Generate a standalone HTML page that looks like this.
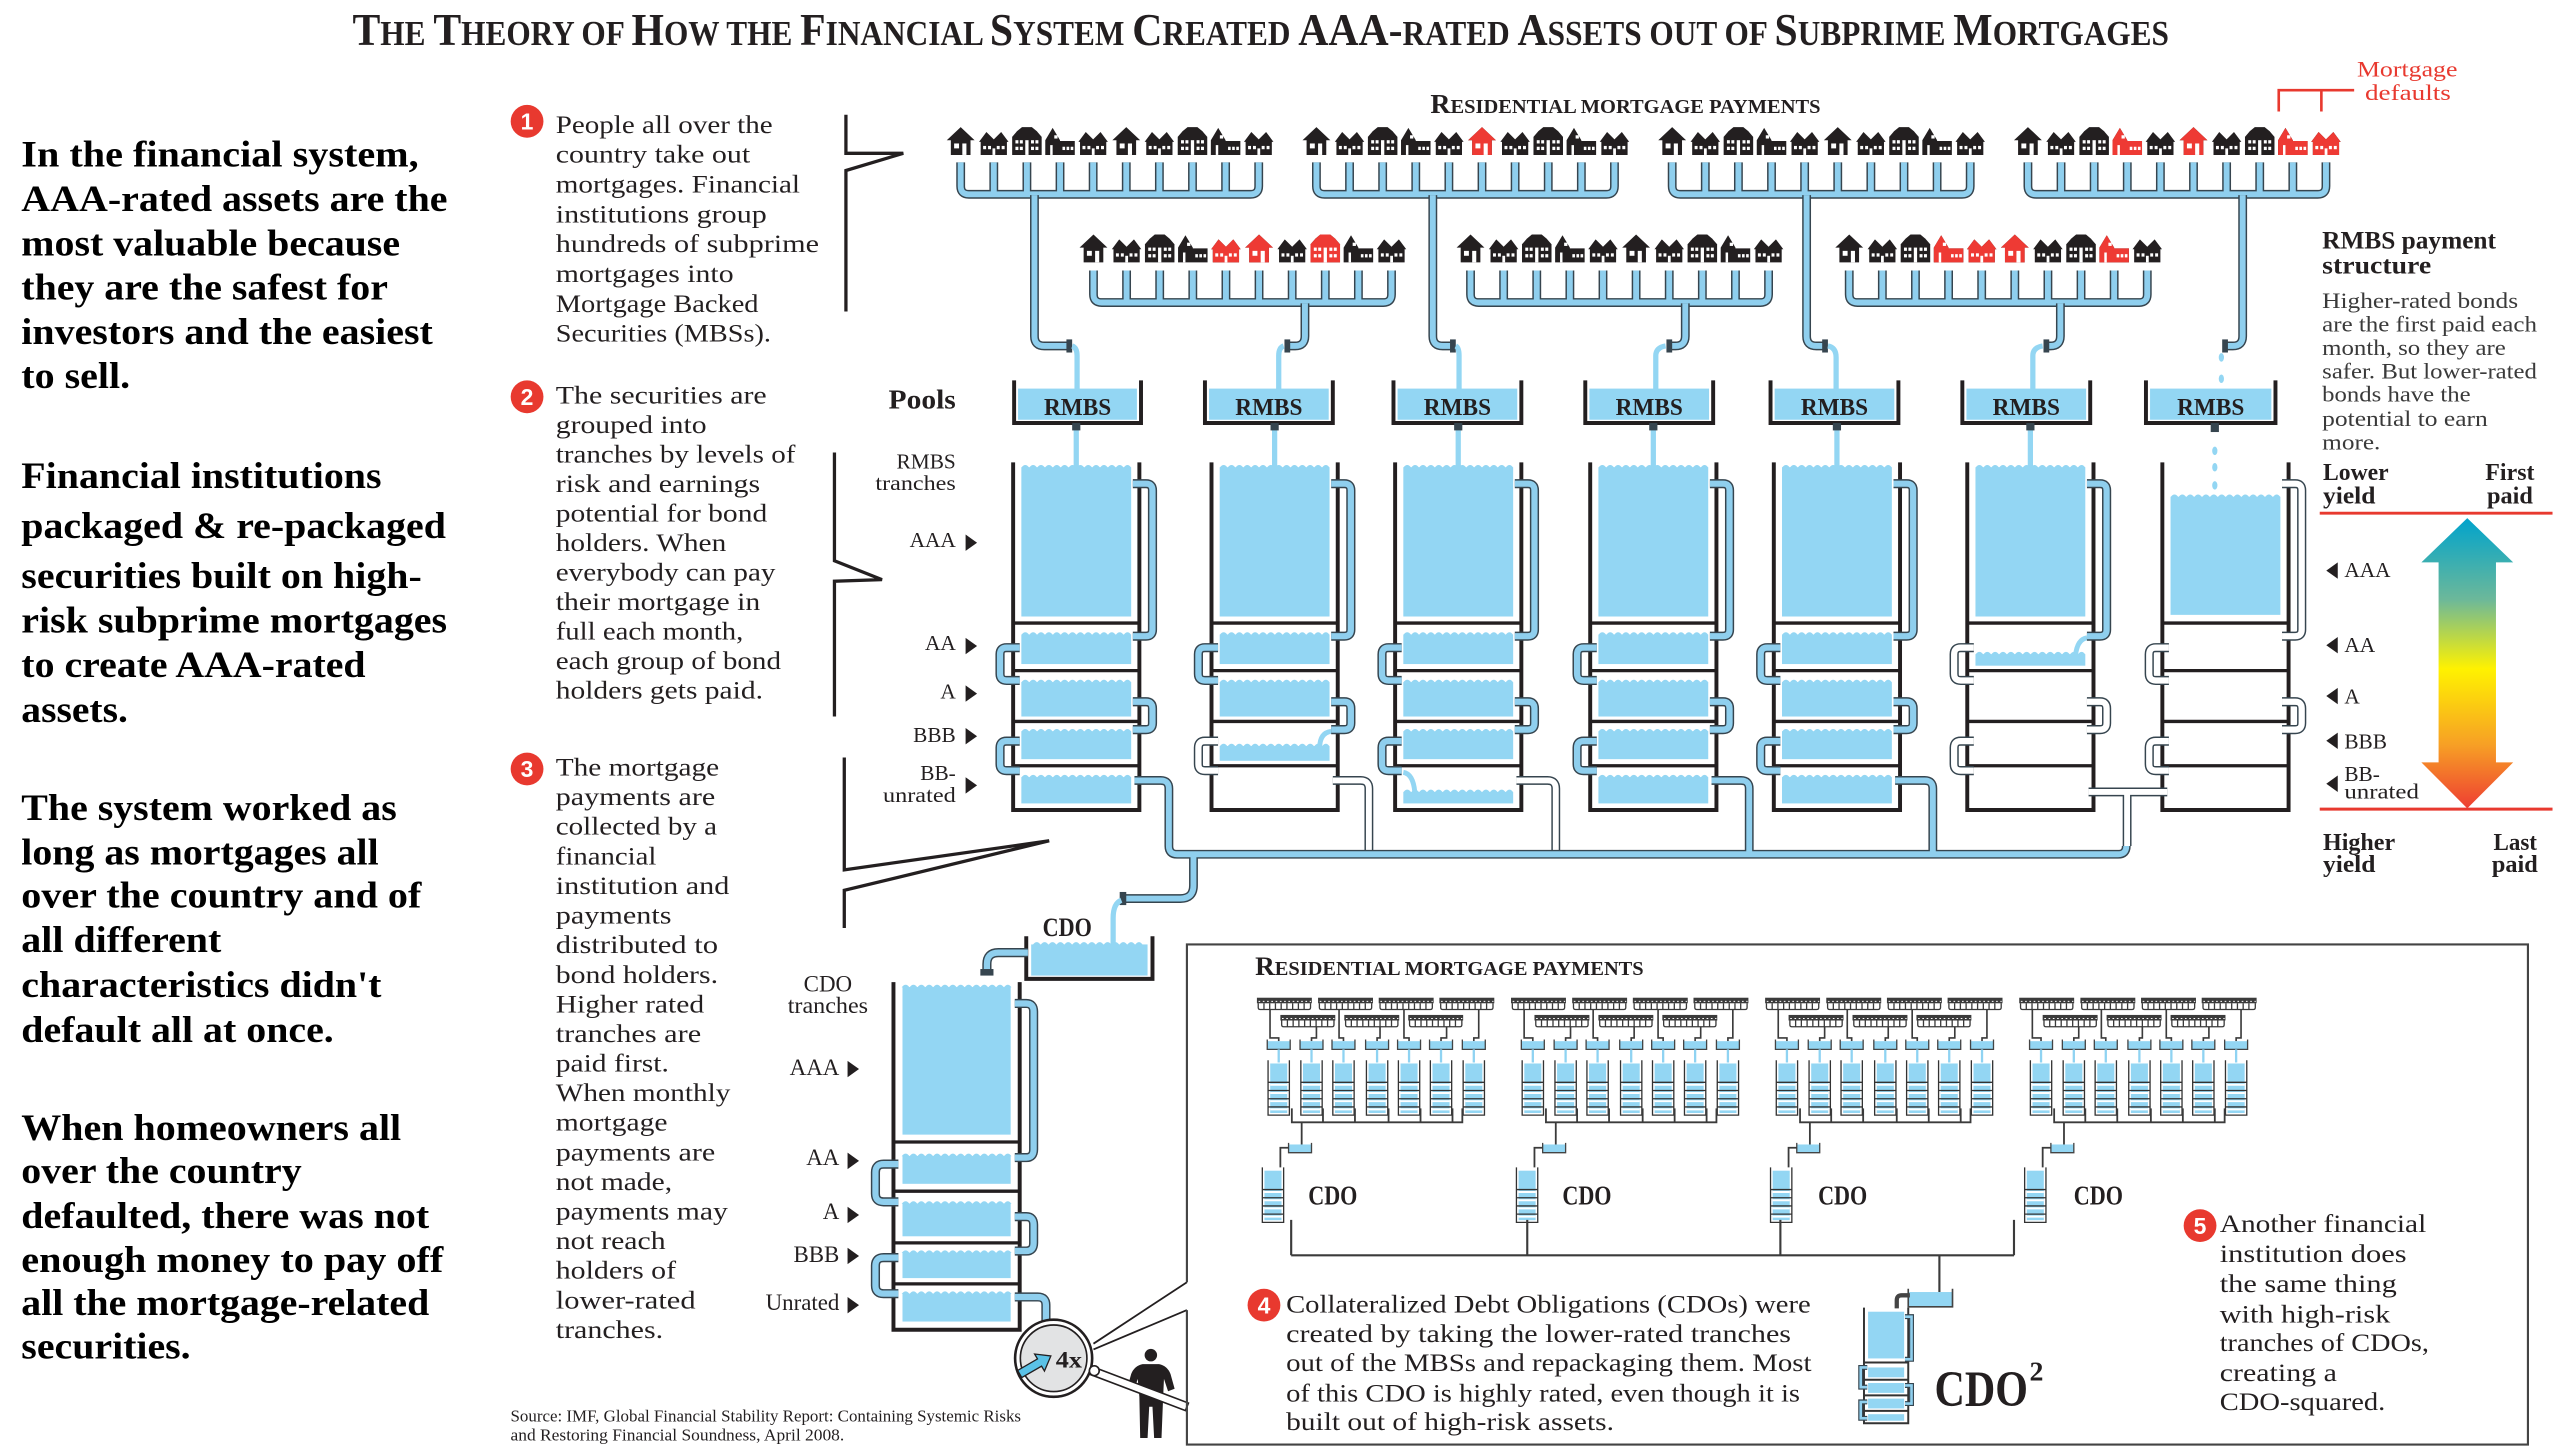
<!DOCTYPE html>
<html><head><meta charset="utf-8"><style>
html,body{margin:0;padding:0;background:#fff;}
svg{display:block;}
text{font-family:"Liberation Serif",serif;fill:#231f20;}
.b{font-weight:bold;}
.lt{font-size:22.5px;font-weight:bold;fill:#000;}
.mt{font-size:15.5px;}
.rt{font-size:13.5px;fill:#3a3a3a;}
.num{font-family:"Liberation Sans",sans-serif;font-weight:bold;font-size:14px;fill:#fff;text-anchor:middle;}
.w{fill:none;stroke:#231f20;}
</style></head><body>
<svg xmlns="http://www.w3.org/2000/svg" xmlns:xlink="http://www.w3.org/1999/xlink" width="2564" height="1456" viewBox="0 0 1564 888" preserveAspectRatio="none">
<defs>
<linearGradient id="grad" x1="0" y1="0" x2="0" y2="1">
<stop offset="0" stop-color="#00a3cc"/><stop offset="0.28" stop-color="#6cb89a"/><stop offset="0.52" stop-color="#fff200"/><stop offset="0.78" stop-color="#f7a025"/><stop offset="1" stop-color="#ee3e32"/>
</linearGradient>
<path id="wv" d="M0,3.2Q2.4,0 4.8,3.2Q7.2,0 9.6,3.2Q12,0 14.4,3.2Q16.8,0 19.2,3.2Q21.6,0 24,3.2Q26.4,0 28.8,3.2Q31.2,0 33.6,3.2Q36,0 38.4,3.2Q40.8,0 43.2,3.2Q45.6,0 48,3.2Q50.4,0 52.8,3.2Q55.2,0 57.6,3.2Q60,0 62.4,3.2Q64.8,0 67,3.2Z"/>
<g id="hA"><path d="M-8.5,-9L0,-17L8.5,-9L6,-9L6,0L-6,0L-6,-9Z"/><rect x="-4" y="-7" width="3" height="3" fill="#fff"/><rect x="1" y="-7" width="2.5" height="7" fill="#fff"/></g>
<g id="hB"><path d="M-9,-8L-4.5,-14L0,-9.5L4.5,-14L9,-8L8,-8L8,0L-8,0L-8,-8Z"/><rect x="-6.5" y="-5.5" width="1.8" height="2" fill="#fff"/><rect x="-3.5" y="-5.5" width="1.8" height="2" fill="#fff"/><rect x="1.8" y="-5.5" width="1.8" height="2" fill="#fff"/><rect x="4.8" y="-5.5" width="1.8" height="2" fill="#fff"/><rect x="-0.8" y="-4" width="1.7" height="4" fill="#fff"/></g>
<g id="hC"><path d="M-9,-11L-6,-14.5L-3,-17L3,-17L6,-14.5L9,-11L9,0L-9,0Z"/><rect x="-7" y="-9" width="1.8" height="2" fill="#fff"/><rect x="-4.3" y="-9" width="1.8" height="2" fill="#fff"/><rect x="2.5" y="-9" width="1.8" height="2" fill="#fff"/><rect x="5.2" y="-9" width="1.8" height="2" fill="#fff"/><rect x="-7" y="-5" width="1.8" height="2" fill="#fff"/><rect x="-4.3" y="-5" width="1.8" height="2" fill="#fff"/><rect x="2.5" y="-5" width="1.8" height="2" fill="#fff"/><rect x="5.2" y="-5" width="1.8" height="2" fill="#fff"/><rect x="-1" y="-9" width="2" height="9" fill="#fff"/></g>
<g id="hD"><path d="M-9,-9L-4.5,-16.5L0,-9L0,-8.5L9,-8.5L9,0L-9,0Z"/><rect x="-6" y="-6" width="1.5" height="6" fill="#fff"/><rect x="1.5" y="-5" width="1.6" height="2" fill="#fff"/><rect x="4" y="-5" width="1.6" height="2" fill="#fff"/><rect x="6.5" y="-5" width="1.6" height="2" fill="#fff"/><rect x="-3.5" y="-12" width="2" height="2" fill="#fff"/></g>
<g id="hg"><use href="#hA" x="0"/><use href="#hB" x="20.2"/><use href="#hC" x="40.4"/><use href="#hD" x="60.6"/><use href="#hB" x="80.8"/><use href="#hA" x="101"/><use href="#hB" x="121.2"/><use href="#hC" x="141.4"/><use href="#hD" x="161.6"/><use href="#hB" x="181.8"/></g>
<path id="combp" fill="none" d="M0,0V14.5Q0,19.5 5,19.5H176.8Q181.8,19.5 181.8,14.5V0M20.2,0V19.5M40.4,0V19.5M60.6,0V19.5M80.8,0V19.5M101,0V19.5M121.2,0V19.5M141.4,0V19.5M161.6,0V19.5"/>
<g id="comb"><use href="#combp" stroke="#36454f" stroke-width="5.4"/><use href="#combp" stroke="#8fcfee" stroke-width="3.6"/></g>
<g id="cw" fill="none" stroke="#231f20"><path d="M0,282V494H77V282" stroke-width="2.4"/><path d="M0,380H77M0,409H77M0,440H77M0,467H77" stroke-width="2"/></g>
<g id="fAAA"><rect x="5" y="285" width="67" height="91"/><use href="#wv" x="5" y="282"/></g>
<g id="fAA"><rect x="5" y="387" width="67" height="18"/><use href="#wv" x="5" y="384"/></g>
<g id="fA"><rect x="5" y="416" width="67" height="21"/><use href="#wv" x="5" y="413"/></g>
<g id="fBBB"><rect x="5" y="446" width="67" height="17"/><use href="#wv" x="5" y="443"/></g>
<g id="fBB"><rect x="5" y="474" width="67" height="16"/><use href="#wv" x="5" y="471"/></g>
<g id="pBBB"><rect x="5" y="455" width="67" height="9"/><use href="#wv" x="5" y="452"/></g>
<g id="pBB"><rect x="5" y="483" width="67" height="7"/><use href="#wv" x="5" y="480"/></g>
<g id="pAA"><rect x="5" y="399" width="67" height="7"/><use href="#wv" x="5" y="396"/></g>
<g id="pAAA"><rect x="5" y="303" width="67" height="72"/><use href="#wv" x="5" y="300"/></g>
<path id="p1" fill="none" d="M73,295H81Q85,295 85,299V384Q85,388 81,388H73"/>
<path id="p2" fill="none" d="M4,395H-4Q-8,395 -8,399V411Q-8,415 -4,415H4"/>
<path id="p3" fill="none" d="M73,428H81Q85,428 85,432V441Q85,445 81,445H73"/>
<path id="p4" fill="none" d="M4,452H-4Q-8,452 -8,456V466Q-8,470 -4,470H4"/>
<g id="p1b"><use href="#p1" stroke="#36454f" stroke-width="5.6"/><use href="#p1" stroke="#8fcfee" stroke-width="3.8"/></g>
<g id="p2b"><use href="#p2" stroke="#36454f" stroke-width="5.6"/><use href="#p2" stroke="#8fcfee" stroke-width="3.8"/></g>
<g id="p3b"><use href="#p3" stroke="#36454f" stroke-width="5.6"/><use href="#p3" stroke="#8fcfee" stroke-width="3.8"/></g>
<g id="p4b"><use href="#p4" stroke="#36454f" stroke-width="5.6"/><use href="#p4" stroke="#8fcfee" stroke-width="3.8"/></g>
<g id="p1w"><use href="#p1" stroke="#36454f" stroke-width="5.6"/><use href="#p1" stroke="#fff" stroke-width="3.8"/></g>
<g id="p2w"><use href="#p2" stroke="#36454f" stroke-width="5.6"/><use href="#p2" stroke="#fff" stroke-width="3.8"/></g>
<g id="p3w"><use href="#p3" stroke="#36454f" stroke-width="5.6"/><use href="#p3" stroke="#fff" stroke-width="3.8"/></g>
<g id="p4w"><use href="#p4" stroke="#36454f" stroke-width="5.6"/><use href="#p4" stroke="#fff" stroke-width="3.8"/></g>
<path id="outl" fill="none" d="M631,119V205Q631,211 637,211H652M874,119V205Q874,211 880,211H886M1102,119V205Q1102,211 1108,211H1113M1368,119V205Q1368,211 1362,211H1357M796,185V205Q796,211 790,211H785M1028,185V205Q1028,211 1022,211H1018M1256.8,185V205Q1256.8,211 1250.8,211H1248"/>
<path id="netw" fill="none" d="M813,476H830Q835,476 835,481V519M925,476H944Q949,476 949,481V519M1274,483H1322M1297.5,483V516"/>
<path id="netb" fill="none" d="M692,476H708Q713,476 713,481V516Q713,521 718,521H1292Q1297,521 1297,516M1044,476H1062Q1067,476 1067,481V521M1156,476H1174Q1179,476 1179,481V521M728,521V540Q728,548 720,548H686"/>
<path id="cdop" fill="none" d="M627,581H609Q602,581 602,588V592"/>
<path id="cdosp" fill="none" d="M619,612H626Q630.5,612 630.5,617V701Q630.5,706 626,706H619M548,710H539Q534,710 534,715V728Q534,733 539,733H548M619,742H626Q630.5,742 630.5,747V758Q630.5,763 626,763H619M548,767H539Q534,767 534,772V784Q534,789 539,789H548M619,791H633Q638,791 638,796V806"/>
<path id="c2p" fill="none" d="M1162,803H1166V829H1162M1139,834H1135V846H1139M1162,845H1166V856H1162M1139,855H1135V865H1139"/>
<g id="mc"><rect width="33.5" height="3.4" fill="#3b3b3b"/><path d="M1,2.2H33" stroke="#fff" stroke-width="0.6" stroke-dasharray="1 1.6"/><path d="M0.8,3.4V6Q0.8,7.2 2,7.2H31.5Q32.7,7.2 32.7,6V3.4M4.3,3.4V7.2M7.8,3.4V7.2M11.3,3.4V7.2M14.8,3.4V7.2M18.3,3.4V7.2M21.8,3.4V7.2M25.3,3.4V7.2M28.8,3.4V7.2" stroke="#3b3b3b" stroke-width="0.8" fill="none"/></g>
<g id="mp"><rect width="14" height="5" fill="#93d6f3"/><path d="M0,-1V5H14V-1" stroke="#444" stroke-width="0.8" fill="none"/></g>
<g id="mt"><rect x="1.3" y="2" width="10.4" height="30.2" fill="#93d6f3"/><path d="M1.3,15H11.7M1.3,20H11.7M1.3,25H11.7M1.3,30H11.7" stroke="#fff" stroke-width="1.2"/><path d="M0,0V33.5H13V0M0,13.5H13M0,18.5H13M0,23.5H13M0,28.5H13" stroke="#333" stroke-width="0.8" fill="none"/></g>
<g id="mg">
<use href="#mc" x="766.7" y="608.5"/><use href="#mc" x="804" y="608.5"/><use href="#mc" x="841" y="608.5"/><use href="#mc" x="878" y="608.5"/>
<use href="#mc" x="781" y="619"/><use href="#mc" x="820" y="619"/><use href="#mc" x="859" y="619"/>
<path d="M774.7,615.6V633H780V635M816.8,615.6V633H819.5V635M856.4,615.6V633H859.5V635M902,615.6V633H899V635M803,626.2V633H800V635M841.8,626.2V633H840V635M882.4,626.2V633H879V635" stroke="#3b3b3b" stroke-width="1" fill="none"/>
<use href="#mp" x="773" y="635"/><use href="#mp" x="793" y="635"/><use href="#mp" x="812.5" y="635"/><use href="#mp" x="833" y="635"/><use href="#mp" x="852.5" y="635"/><use href="#mp" x="872" y="635"/><use href="#mp" x="892" y="635"/>
<path d="M780,640V648M800,640V648M819.5,640V648M840,640V648M859.5,640V648M879,640V648M899,640V648" stroke="#8fd3f2" stroke-width="1.4"/>
<use href="#mt" x="773.5" y="646.6"/><use href="#mt" x="793.5" y="646.6"/><use href="#mt" x="813" y="646.6"/><use href="#mt" x="833.5" y="646.6"/><use href="#mt" x="853" y="646.6"/><use href="#mt" x="872.5" y="646.6"/><use href="#mt" x="892.5" y="646.6"/>
<path d="M788,676V684.5H892V676M807,676V684.5M826.5,676V684.5M847,676V684.5M866.5,676V684.5M886,676V684.5M794,684.5V698" stroke="#3b3b3b" stroke-width="1.1" fill="none"/>
<use href="#mp" x="786" y="698"/>
<path d="M786,700H781V712" stroke="#3b3b3b" stroke-width="1.1" fill="none"/>
<use href="#mt" x="770" y="712"/>
</g>
</defs>

<!-- Title -->
<text x="215" y="27.5" font-size="28" class="b" textLength="1108" lengthAdjust="spacingAndGlyphs">T<tspan font-size="21">HE </tspan>T<tspan font-size="21">HEORY OF </tspan>H<tspan font-size="21">OW THE </tspan>F<tspan font-size="21">INANCIAL </tspan>S<tspan font-size="21">YSTEM </tspan>C<tspan font-size="21">REATED </tspan>AAA-<tspan font-size="21">RATED </tspan>A<tspan font-size="21">SSETS OUT OF </tspan>S<tspan font-size="21">UBPRIME </tspan>M<tspan font-size="21">ORTGAGES</tspan></text>

<!-- Left text -->
<g class="lt">
<text x="13" y="101.7" class="lt" textLength="242.4" lengthAdjust="spacingAndGlyphs">In the financial system,</text>
<text x="13" y="128.7" class="lt" textLength="260" lengthAdjust="spacingAndGlyphs">AAA-rated assets are the</text>
<text x="13" y="155.7" class="lt" textLength="231" lengthAdjust="spacingAndGlyphs">most valuable because</text>
<text x="13" y="182.7" class="lt" textLength="223.6" lengthAdjust="spacingAndGlyphs">they are the safest for</text>
<text x="13" y="209.7" class="lt" textLength="251" lengthAdjust="spacingAndGlyphs">investors and the easiest</text>
<text x="13" y="236.7" class="lt" textLength="66.4" lengthAdjust="spacingAndGlyphs">to sell.</text>
<text x="13" y="297.6" class="lt" textLength="219.7" lengthAdjust="spacingAndGlyphs">Financial institutions</text>
<text x="13" y="328" class="lt" textLength="259" lengthAdjust="spacingAndGlyphs">packaged &amp; re-packaged</text>
<text x="13" y="358.5" class="lt" textLength="244.3" lengthAdjust="spacingAndGlyphs">securities built on high-</text>
<text x="13" y="385.7" class="lt" textLength="259.7" lengthAdjust="spacingAndGlyphs">risk subprime mortgages</text>
<text x="13" y="413" class="lt" textLength="210" lengthAdjust="spacingAndGlyphs">to create AAA-rated</text>
<text x="13" y="440.2" class="lt" textLength="65" lengthAdjust="spacingAndGlyphs">assets.</text>
<text x="13" y="500" class="lt" textLength="229" lengthAdjust="spacingAndGlyphs">The system worked as</text>
<text x="13" y="527.3" class="lt" textLength="218" lengthAdjust="spacingAndGlyphs">long as mortgages all</text>
<text x="13" y="553.4" class="lt" textLength="244" lengthAdjust="spacingAndGlyphs">over the country and of</text>
<text x="13" y="580.6" class="lt" textLength="122" lengthAdjust="spacingAndGlyphs">all different</text>
<text x="13" y="608" class="lt" textLength="219.7" lengthAdjust="spacingAndGlyphs">characteristics didn't</text>
<text x="13" y="635.4" class="lt" textLength="190.6" lengthAdjust="spacingAndGlyphs">default all at once.</text>
<text x="13" y="695.4" class="lt" textLength="231.7" lengthAdjust="spacingAndGlyphs">When homeowners all</text>
<text x="13" y="721.4" class="lt" textLength="171" lengthAdjust="spacingAndGlyphs">over the country</text>
<text x="13" y="749" class="lt" textLength="248.8" lengthAdjust="spacingAndGlyphs">defaulted, there was not</text>
<text x="13" y="775.7" class="lt" textLength="257.4" lengthAdjust="spacingAndGlyphs">enough money to pay off</text>
<text x="13" y="802" class="lt" textLength="248.8" lengthAdjust="spacingAndGlyphs">all the mortgage-related</text>
<text x="13" y="828.5" class="lt" textLength="103.3" lengthAdjust="spacingAndGlyphs">securities.</text>
</g>

<!-- Numbered circles -->
<circle cx="321.5" cy="74" r="10" fill="#e8392f"/><text x="321.5" y="79" class="num">1</text>
<circle cx="321.5" cy="242" r="10" fill="#e8392f"/><text x="321.5" y="247" class="num">2</text>
<circle cx="321.5" cy="469" r="10" fill="#e8392f"/><text x="321.5" y="474" class="num">3</text>
<circle cx="771" cy="796" r="10" fill="#e8392f"/><text x="771" y="801" class="num">4</text>
<circle cx="1342" cy="747.5" r="10" fill="#e8392f"/><text x="1342" y="752.5" class="num">5</text>

<!-- Middle text -->
<g class="mt">
<text x="339" y="81" class="mt" textLength="132.3" lengthAdjust="spacingAndGlyphs">People all over the</text>
<text x="339" y="99.2" class="mt" textLength="118.6" lengthAdjust="spacingAndGlyphs">country take out</text>
<text x="339" y="117.4" class="mt" textLength="149" lengthAdjust="spacingAndGlyphs">mortgages. Financial</text>
<text x="339" y="135.6" class="mt" textLength="128.7" lengthAdjust="spacingAndGlyphs">institutions group</text>
<text x="339" y="153.8" class="mt" textLength="160.6" lengthAdjust="spacingAndGlyphs">hundreds of subprime</text>
<text x="339" y="172" class="mt" textLength="108.5" lengthAdjust="spacingAndGlyphs">mortgages into</text>
<text x="339" y="190.2" class="mt" textLength="123.7" lengthAdjust="spacingAndGlyphs">Mortgage Backed</text>
<text x="339" y="208.4" class="mt" textLength="131.3" lengthAdjust="spacingAndGlyphs">Securities (MBSs).</text>

<text x="339" y="246" class="mt" textLength="128.7" lengthAdjust="spacingAndGlyphs">The securities are</text>
<text x="339" y="264" class="mt" textLength="92" lengthAdjust="spacingAndGlyphs">grouped into</text>
<text x="339" y="282" class="mt" textLength="146.2" lengthAdjust="spacingAndGlyphs">tranches by levels of</text>
<text x="339" y="300" class="mt" textLength="124.7" lengthAdjust="spacingAndGlyphs">risk and earnings</text>
<text x="339" y="318" class="mt" textLength="129" lengthAdjust="spacingAndGlyphs">potential for bond</text>
<text x="339" y="336" class="mt" textLength="104" lengthAdjust="spacingAndGlyphs">holders. When</text>
<text x="339" y="354" class="mt" textLength="134" lengthAdjust="spacingAndGlyphs">everybody can pay</text>
<text x="339" y="372" class="mt" textLength="124.7" lengthAdjust="spacingAndGlyphs">their mortgage in</text>
<text x="339" y="390" class="mt" textLength="114.4" lengthAdjust="spacingAndGlyphs">full each month,</text>
<text x="339" y="408" class="mt" textLength="137.4" lengthAdjust="spacingAndGlyphs">each group of bond</text>
<text x="339" y="426" class="mt" textLength="126.4" lengthAdjust="spacingAndGlyphs">holders gets paid.</text>

<text x="339" y="473" class="mt" textLength="99.7" lengthAdjust="spacingAndGlyphs">The mortgage</text>
<text x="339" y="491" class="mt" textLength="97.3" lengthAdjust="spacingAndGlyphs">payments are</text>
<text x="339" y="509.1" class="mt" textLength="98.4" lengthAdjust="spacingAndGlyphs">collected by a</text>
<text x="339" y="527.2" class="mt" textLength="61.4" lengthAdjust="spacingAndGlyphs">financial</text>
<text x="339" y="545.2" class="mt" textLength="105.9" lengthAdjust="spacingAndGlyphs">institution and</text>
<text x="339" y="563.3" class="mt" textLength="70.6" lengthAdjust="spacingAndGlyphs">payments</text>
<text x="339" y="581.3" class="mt" textLength="99" lengthAdjust="spacingAndGlyphs">distributed to</text>
<text x="339" y="599.4" class="mt" textLength="99" lengthAdjust="spacingAndGlyphs">bond holders.</text>
<text x="339" y="617.4" class="mt" textLength="90.5" lengthAdjust="spacingAndGlyphs">Higher rated</text>
<text x="339" y="635.5" class="mt" textLength="88.7" lengthAdjust="spacingAndGlyphs">tranches are</text>
<text x="339" y="653.5" class="mt" textLength="69" lengthAdjust="spacingAndGlyphs">paid first.</text>
<text x="339" y="671.6" class="mt" textLength="106.5" lengthAdjust="spacingAndGlyphs">When monthly</text>
<text x="339" y="689.6" class="mt" textLength="68.2" lengthAdjust="spacingAndGlyphs">mortgage</text>
<text x="339" y="707.7" class="mt" textLength="97.3" lengthAdjust="spacingAndGlyphs">payments are</text>
<text x="339" y="725.7" class="mt" textLength="71" lengthAdjust="spacingAndGlyphs">not made,</text>
<text x="339" y="743.8" class="mt" textLength="105" lengthAdjust="spacingAndGlyphs">payments may</text>
<text x="339" y="761.8" class="mt" textLength="67" lengthAdjust="spacingAndGlyphs">not reach</text>
<text x="339" y="779.9" class="mt" textLength="73.4" lengthAdjust="spacingAndGlyphs">holders of</text>
<text x="339" y="797.9" class="mt" textLength="85.3" lengthAdjust="spacingAndGlyphs">lower-rated</text>
<text x="339" y="816" class="mt" textLength="65.5" lengthAdjust="spacingAndGlyphs">tranches.</text>
</g>

<!-- Brackets -->
<g fill="none" stroke="#231f20" stroke-width="2">
<polyline points="516,70 516,93.5 551,93.5 516,104 516,190"/>
<polyline points="509,276 509,342 538,353.5 509,354.5 509,437"/>
<polyline points="515,462 515,530.5 640,512.8 515,543 515,566"/>
</g>

<!-- Source -->
<text x="311.4" y="867" font-size="10.5" textLength="311.4" lengthAdjust="spacingAndGlyphs">Source: IMF, Global Financial Stability Report: Containing Systemic Risks</text>
<text x="311.4" y="878.4" font-size="10.5" textLength="203.6" lengthAdjust="spacingAndGlyphs">and Restoring Financial Soundness, April 2008.</text>

<!-- Residential mortgage payments header -->
<text x="872.5" y="69" font-size="17" class="b" textLength="238" lengthAdjust="spacingAndGlyphs">R<tspan font-size="12.5">ESIDENTIAL MORTGAGE PAYMENTS</tspan></text>
<text x="1437.7" y="46.8" font-size="13.5" style="fill:#e8392f" textLength="61.3" lengthAdjust="spacingAndGlyphs">Mortgage</text>
<text x="1442.6" y="61" font-size="13.5" style="fill:#e8392f" textLength="52.4" lengthAdjust="spacingAndGlyphs">defaults</text>
<path d="M1390,68V55H1436M1416,55V68" stroke="#e8392f" stroke-width="1.6" fill="none"/>

<!-- Houses -->
<g fill="#231f20">
<use href="#hg" x="586" y="94.5"/><use href="#hg" x="803" y="94.5"/><use href="#hg" x="1020" y="94.5"/><use href="#hg" x="1237" y="94.5"/>
<use href="#hg" x="667" y="160"/><use href="#hg" x="897" y="160"/><use href="#hg" x="1128" y="160"/>
</g>
<g fill="#ee3a34">
<use href="#hA" x="904" y="94.5"/>
<use href="#hD" x="1297.6" y="94.5"/><use href="#hA" x="1338" y="94.5"/><use href="#hD" x="1398.6" y="94.5"/><use href="#hB" x="1418.8" y="94.5"/>
<use href="#hB" x="747.8" y="160"/><use href="#hA" x="768" y="160"/><use href="#hC" x="808.4" y="160"/>
<use href="#hD" x="1188.6" y="160"/><use href="#hB" x="1208.8" y="160"/><use href="#hA" x="1229" y="160"/><use href="#hD" x="1289.6" y="160"/>
</g>

<!-- Combs -->
<use href="#comb" x="586" y="99"/><use href="#comb" x="803" y="99"/><use href="#comb" x="1020" y="99"/><use href="#comb" x="1237" y="99"/>
<use href="#comb" x="667" y="165"/><use href="#comb" x="897" y="165"/><use href="#comb" x="1128" y="165"/>

<!-- Outlet pipes -->
<use href="#outl" stroke="#36454f" stroke-width="5.4"/>
<use href="#outl" stroke="#8fcfee" stroke-width="3.6"/>
<g fill="#36454f">
<rect x="650.5" y="207" width="3.5" height="8"/><rect x="884.5" y="207" width="3.5" height="8"/><rect x="1111.5" y="207" width="3.5" height="8"/><rect x="1355.5" y="207" width="3.5" height="8"/>
<rect x="783.5" y="207" width="3.5" height="8"/><rect x="1016.5" y="207" width="3.5" height="8"/><rect x="1246.5" y="207" width="3.5" height="8"/>
</g>

<!-- Streams into pools -->
<g fill="none" stroke="#93d6f3" stroke-width="3.2">
<path d="M654,211Q657,212 657,217V240"/>
<path d="M888,211Q890,212 890,217V240"/>
<path d="M1115,211Q1120,212 1120,218V240"/>
<path d="M783,211Q780,212 780,217V240"/>
<path d="M1016,211Q1010,212 1010,217V240"/>
<path d="M1246,211Q1240,212 1240,217V240"/>
<path d="M656.5,262V287M777.5,262V287M889.5,262V287M1008.5,262V287M1120.5,262V287M1238.5,262V287"/>
</g>
<g fill="#93d6f3">
<ellipse cx="1355" cy="218" rx="1.6" ry="2.6"/><ellipse cx="1355" cy="231" rx="1.6" ry="2.6"/>
<ellipse cx="1351" cy="275" rx="1.6" ry="2.6"/><ellipse cx="1351" cy="285" rx="1.6" ry="2.6"/><ellipse cx="1351" cy="296" rx="1.6" ry="2.6"/>
</g>

<!-- Pools -->
<text x="542" y="249" font-size="16.5" class="b" textLength="41" lengthAdjust="spacingAndGlyphs">Pools</text>
<g fill="#93d6f3">
<rect x="621" y="237" width="72.5" height="19"/><rect x="737.5" y="237" width="73" height="19"/><rect x="852.5" y="237" width="73" height="19"/><rect x="969.5" y="237" width="73" height="19"/><rect x="1082.5" y="237" width="73" height="19"/><rect x="1199.5" y="237" width="73" height="19"/><rect x="1311.5" y="237" width="74" height="19"/>
</g>
<g class="w" stroke-width="2.4">
<path d="M618.6,232V258H696V232"/><path d="M735,232V258H813V232"/><path d="M850,232V258H928V232"/><path d="M967,232V258H1045V232"/><path d="M1080,232V258H1158V232"/><path d="M1197,232V258H1275V232"/><path d="M1309,232V258H1388V232"/>
</g>
<g font-size="15" class="b" text-anchor="middle">
<text x="657.3" y="253" class="b" textLength="41" lengthAdjust="spacingAndGlyphs">RMBS</text>
<text x="774" y="253" class="b" textLength="41" lengthAdjust="spacingAndGlyphs">RMBS</text>
<text x="889" y="253" class="b" textLength="41" lengthAdjust="spacingAndGlyphs">RMBS</text>
<text x="1006" y="253" class="b" textLength="41" lengthAdjust="spacingAndGlyphs">RMBS</text>
<text x="1119" y="253" class="b" textLength="41" lengthAdjust="spacingAndGlyphs">RMBS</text>
<text x="1236" y="253" class="b" textLength="41" lengthAdjust="spacingAndGlyphs">RMBS</text>
<text x="1348.5" y="253" class="b" textLength="41" lengthAdjust="spacingAndGlyphs">RMBS</text>
</g>
<g fill="#36454f">
<rect x="654" y="258" width="5" height="4.5"/><rect x="775" y="258" width="5" height="4.5"/><rect x="887" y="258" width="5" height="4.5"/><rect x="1006" y="258" width="5" height="4.5"/><rect x="1118" y="258" width="5" height="4.5"/><rect x="1236" y="258" width="5" height="4.5"/><rect x="1348.5" y="258" width="5" height="5.5"/>
</g>

<!-- RMBS tranche labels -->
<g font-size="13" text-anchor="end">
<text x="583" y="285.6">RMBS</text>
<text x="583" y="298.9" textLength="49" lengthAdjust="spacingAndGlyphs">tranches</text>
<text x="583" y="333.5">AAA</text>
<text x="583" y="396.5">AA</text>
<text x="583" y="425.9">A</text>
<text x="583" y="452.4">BBB</text>
<text x="583" y="475.8">BB-</text>
<text x="583" y="489" textLength="44.4" lengthAdjust="spacingAndGlyphs">unrated</text>
</g>
<g fill="#231f20">
<polygon points="589,326 596,331 589,336"/><polygon points="589,389 596,394 589,399"/><polygon points="589,418 596,423 589,428"/><polygon points="589,444 596,449 589,454"/><polygon points="589,474 596,479 589,484"/>
</g>

<!-- Column water -->
<g fill="#93d6f3">
<use href="#fAAA" x="618"/><use href="#fAA" x="618"/><use href="#fA" x="618"/><use href="#fBBB" x="618"/><use href="#fBB" x="618"/>
<use href="#fAAA" x="739"/><use href="#fAA" x="739"/><use href="#fA" x="739"/><use href="#pBBB" x="739"/>
<use href="#fAAA" x="851"/><use href="#fAA" x="851"/><use href="#fA" x="851"/><use href="#fBBB" x="851"/><use href="#pBB" x="851"/>
<use href="#fAAA" x="970"/><use href="#fAA" x="970"/><use href="#fA" x="970"/><use href="#fBBB" x="970"/><use href="#fBB" x="970"/>
<use href="#fAAA" x="1082"/><use href="#fAA" x="1082"/><use href="#fA" x="1082"/><use href="#fBBB" x="1082"/><use href="#fBB" x="1082"/>
<use href="#fAAA" x="1200"/><use href="#pAA" x="1200"/>
<use href="#pAAA" x="1319"/>
</g>
<g fill="none" stroke="#93d6f3" stroke-width="3">
<path d="M812,446Q805,447 805,456"/>
<path d="M856,471Q862,472 863,483"/>
<path d="M1273,389Q1267,390 1266,400"/>
</g>

<!-- Column walls -->
<use href="#cw" x="618"/><use href="#cw" x="739"/><use href="#cw" x="851"/><use href="#cw" x="970"/><use href="#cw" x="1082"/><use href="#cw" x="1200"/><use href="#cw" x="1319"/>

<!-- Column side pipes -->
<use href="#p1b" x="618"/><use href="#p2b" x="618"/><use href="#p3b" x="618"/><use href="#p4b" x="618"/>
<use href="#p1b" x="739"/><use href="#p2b" x="739"/><use href="#p3b" x="739"/><use href="#p4w" x="739"/>
<use href="#p1b" x="851"/><use href="#p2b" x="851"/><use href="#p3b" x="851"/><use href="#p4b" x="851"/>
<use href="#p1b" x="970"/><use href="#p2b" x="970"/><use href="#p3b" x="970"/><use href="#p4b" x="970"/>
<use href="#p1b" x="1082"/><use href="#p2b" x="1082"/><use href="#p3b" x="1082"/><use href="#p4b" x="1082"/>
<use href="#p1b" x="1200"/><use href="#p2w" x="1200"/><use href="#p3w" x="1200"/><use href="#p4w" x="1200"/>
<use href="#p1w" x="1319"/><use href="#p2w" x="1319"/><use href="#p3w" x="1319"/><use href="#p4w" x="1319"/>

<!-- Collection network -->
<use href="#netw" stroke="#36454f" stroke-width="5.4"/>
<use href="#netw" stroke="#fff" stroke-width="3.6"/>
<use href="#netb" stroke="#36454f" stroke-width="5.4"/>
<use href="#netb" stroke="#8fcfee" stroke-width="3.6"/>
<rect x="683" y="544" width="4" height="8" fill="#36454f"/>

<!-- CDO pool -->
<path d="M684,549Q679,551 679,560V577" fill="none" stroke="#93d6f3" stroke-width="3.2"/>
<g fill="#93d6f3"><rect x="629" y="576" width="71" height="19"/><use href="#wv" x="630" y="573"/></g>
<path d="M626,571V597H703V571" class="w" stroke-width="2.4"/>
<text x="651" y="571" font-size="16" class="b" text-anchor="middle" textLength="30" lengthAdjust="spacingAndGlyphs">CDO</text>
<use href="#cdop" stroke="#36454f" stroke-width="5.6"/>
<use href="#cdop" stroke="#8fcfee" stroke-width="3.8"/>
<rect x="598" y="591" width="8" height="4" fill="#36454f"/>

<!-- CDO tranche tank -->
<g font-size="14" text-anchor="middle">
<text x="505" y="604.6">CDO</text>
<text x="505" y="617.8" textLength="49" lengthAdjust="spacingAndGlyphs">tranches</text>
</g>
<g font-size="14" text-anchor="end">
<text x="512" y="655.5">AAA</text>
<text x="512" y="710.6">AA</text>
<text x="512" y="743.6">A</text>
<text x="512" y="769.8">BBB</text>
<text x="512" y="799" textLength="45" lengthAdjust="spacingAndGlyphs">Unrated</text>
</g>
<g fill="#231f20">
<polygon points="517,647 524,652 517,657"/><polygon points="517,703 524,708 517,713"/><polygon points="517,736 524,741 517,746"/><polygon points="517,761 524,766 517,771"/><polygon points="517,791 524,796 517,801"/>
</g>
<g fill="#93d6f3">
<rect x="550.5" y="602" width="66" height="90"/><use href="#wv" x="550" y="599"/>
<rect x="550.5" y="705" width="66" height="17"/><use href="#wv" x="550" y="702"/>
<rect x="550.5" y="734" width="66" height="20"/><use href="#wv" x="550" y="731"/>
<rect x="550.5" y="764" width="66" height="15.5"/><use href="#wv" x="550" y="761"/>
<rect x="550.5" y="789" width="66" height="17"/><use href="#wv" x="550" y="786"/>
</g>
<g class="w"><path d="M545,599V811H622V599" stroke-width="2.4"/><path d="M545,696.5H622M545,726.5H622M545,758H622M545,783H622" stroke-width="2"/></g>
<use href="#cdosp" stroke="#36454f" stroke-width="5.6"/>
<use href="#cdosp" stroke="#8fcfee" stroke-width="3.8"/>

<!-- Magnifier & man -->
<path d="M667,819.5L724,782M667,823L724,799" stroke="#231f20" stroke-width="1.1" fill="none"/>
<circle cx="642.7" cy="828.4" r="23.5" fill="#fff" stroke="#231f20" stroke-width="1.6"/>
<circle cx="642.7" cy="828.4" r="20.3" fill="#e2e3e4" stroke="#231f20" stroke-width="1"/>
<polygon points="620.75,835.8 632.85,828.8 631.1,825.8 641,827 637.1,836.2 635.35,833.2 623.25,840.2" fill="#5bc2e7" stroke="#231f20" stroke-width="0.8"/>
<text x="644" y="834" font-size="14" class="b" textLength="16" lengthAdjust="spacingAndGlyphs">4x</text>
<g fill="#231f20">
<circle cx="702" cy="826.5" r="3.8"/>
<path d="M697,832L707,832Q712,833 714,838L716.5,847L712.5,848.5L710,841L709.5,852L708.5,877L704,877L703,858L701,858L700,877L695.5,877L695,852L694,841L691.5,848.5L687.5,847L690,838Q692,833 697,832Z"/>
</g>
<polygon points="666.9,833.7 724.9,855.7 723.1,860.3 665.1,838.3" fill="#fff" stroke="#231f20" stroke-width="1"/>
<circle cx="667.5" cy="836" r="3" fill="#fff" stroke="#231f20" stroke-width="1"/>

<!-- Right panel -->
<text x="1416.5" y="151.5" font-size="15.5" class="b" textLength="106" lengthAdjust="spacingAndGlyphs">RMBS payment</text>
<text x="1416.5" y="166.7" font-size="15.5" class="b" textLength="66.5" lengthAdjust="spacingAndGlyphs">structure</text>
<g class="rt">
<text x="1416.5" y="188" class="rt" textLength="119.5" lengthAdjust="spacingAndGlyphs">Higher-rated bonds</text>
<text x="1416.5" y="202.3" class="rt" textLength="131" lengthAdjust="spacingAndGlyphs">are the first paid each</text>
<text x="1416.5" y="216.5" class="rt" textLength="112" lengthAdjust="spacingAndGlyphs">month, so they are</text>
<text x="1416.5" y="230.7" class="rt" textLength="131" lengthAdjust="spacingAndGlyphs">safer. But lower-rated</text>
<text x="1416.5" y="245" class="rt" textLength="90.5" lengthAdjust="spacingAndGlyphs">bonds have the</text>
<text x="1416.5" y="259.8" class="rt" textLength="101" lengthAdjust="spacingAndGlyphs">potential to earn</text>
<text x="1416.5" y="274" class="rt" textLength="35.5" lengthAdjust="spacingAndGlyphs">more.</text>
</g>
<g font-size="15" class="b">
<text x="1417" y="292.8" class="b" textLength="40" lengthAdjust="spacingAndGlyphs">Lower</text>
<text x="1417" y="307" class="b" textLength="32" lengthAdjust="spacingAndGlyphs">yield</text>
<text x="1516" y="292.8" class="b" textLength="30" lengthAdjust="spacingAndGlyphs">First</text>
<text x="1517" y="307" class="b" textLength="28" lengthAdjust="spacingAndGlyphs">paid</text>
<text x="1417" y="518.5" class="b" textLength="44" lengthAdjust="spacingAndGlyphs">Higher</text>
<text x="1417" y="531.7" class="b" textLength="32" lengthAdjust="spacingAndGlyphs">yield</text>
<text x="1521" y="518.5" class="b" textLength="26.5" lengthAdjust="spacingAndGlyphs">Last</text>
<text x="1520" y="531.7" class="b" textLength="28" lengthAdjust="spacingAndGlyphs">paid</text>
</g>
<path d="M1415,313H1557M1415,493.5H1557" stroke="#e8392f" stroke-width="1.8"/>
<polygon points="1505,316 1533,343 1522.5,343 1522.5,465 1533,465 1505,493 1477,465 1487.5,465 1487.5,343 1477,343" fill="url(#grad)"/>
<g fill="#231f20">
<polygon points="1419,348 1426,343 1426,353"/><polygon points="1419,393.5 1426,388.5 1426,398.5"/><polygon points="1419,424.5 1426,419.5 1426,429.5"/><polygon points="1419,451.8 1426,446.8 1426,456.8"/><polygon points="1419,478 1426,473 1426,483"/>
</g>
<g font-size="13">
<text x="1430" y="351.8">AAA</text>
<text x="1430" y="397.5">AA</text>
<text x="1430" y="429">A</text>
<text x="1430" y="456.4">BBB</text>
<text x="1430" y="476.4">BB-</text>
<text x="1430" y="486.9" textLength="45.5" lengthAdjust="spacingAndGlyphs">unrated</text>
</g>

<!-- Box -->
<path d="M724,782V576H1542V881H724V799" fill="none" stroke="#444" stroke-width="1.3"/>
<text x="765.6" y="594.8" font-size="16" class="b" textLength="237" lengthAdjust="spacingAndGlyphs">R<tspan font-size="12">ESIDENTIAL MORTGAGE PAYMENTS</tspan></text>
<use href="#mg"/><use href="#mg" x="155"/><use href="#mg" x="310"/><use href="#mg" x="465"/>
<g font-size="17" class="b">
<text x="798" y="734.5" class="b" textLength="30" lengthAdjust="spacingAndGlyphs">CDO</text>
<text x="953" y="734.5" class="b" textLength="30" lengthAdjust="spacingAndGlyphs">CDO</text>
<text x="1109" y="734.5" class="b" textLength="30" lengthAdjust="spacingAndGlyphs">CDO</text>
<text x="1265" y="734.5" class="b" textLength="30" lengthAdjust="spacingAndGlyphs">CDO</text>
</g>
<path d="M787.6,744V765.6M931.6,744V765.6M1086,744V765.6M1228.5,744V765.6M787.6,765.6H1228.5M1183,765.6V788" stroke="#3b3b3b" stroke-width="1.3" fill="none"/>

<!-- CDO squared -->
<rect x="1164" y="788" width="27" height="9" fill="#93d6f3"/>
<path d="M1164,786V797H1191V786" stroke="#444" stroke-width="1" fill="none"/>
<path d="M1165,790H1160Q1157,790 1157,793V798" stroke="#444" stroke-width="2.6" fill="none"/>
<g fill="#93d6f3">
<rect x="1139.5" y="800" width="22" height="28.5"/><rect x="1139.5" y="834" width="22" height="6"/><rect x="1139.5" y="843.5" width="22" height="6"/><rect x="1139.5" y="853" width="22" height="6"/><rect x="1139.5" y="862.5" width="22" height="4"/>
</g>
<path d="M1137,797.5V868H1164V797.5M1137,831H1164M1137,841.5H1164M1137,851H1164M1137,860.5H1164" stroke="#333" stroke-width="1.2" fill="none"/>
<use href="#c2p" stroke="#36454f" stroke-width="3"/>
<use href="#c2p" stroke="#8fcfee" stroke-width="1.6"/>
<text x="1180" y="857.5" font-size="31" class="b" textLength="57" lengthAdjust="spacingAndGlyphs">CDO</text>
<text x="1238" y="842" font-size="17" class="b">2</text>

<!-- Text 4 & 5 -->
<g class="mt">
<text x="784.5" y="800.6" class="mt" textLength="320" lengthAdjust="spacingAndGlyphs">Collateralized Debt Obligations (CDOs) were</text>
<text x="784.5" y="818.5" class="mt" textLength="308" lengthAdjust="spacingAndGlyphs">created by taking the lower-rated tranches</text>
<text x="784.5" y="836.3" class="mt" textLength="320.5" lengthAdjust="spacingAndGlyphs">out of the MBSs and repackaging them. Most</text>
<text x="784.5" y="854.8" class="mt" textLength="313.5" lengthAdjust="spacingAndGlyphs">of this CDO is highly rated, even though it is</text>
<text x="784.5" y="872.2" class="mt" textLength="200" lengthAdjust="spacingAndGlyphs">built out of high-risk assets.</text>
<text x="1354" y="751.4" class="mt" textLength="126" lengthAdjust="spacingAndGlyphs">Another financial</text>
<text x="1354" y="769.8" class="mt" textLength="114" lengthAdjust="spacingAndGlyphs">institution does</text>
<text x="1354" y="788" class="mt" textLength="108" lengthAdjust="spacingAndGlyphs">the same thing</text>
<text x="1354" y="806.5" class="mt" textLength="104" lengthAdjust="spacingAndGlyphs">with high-risk</text>
<text x="1354" y="824" class="mt" textLength="127.6" lengthAdjust="spacingAndGlyphs">tranches of CDOs,</text>
<text x="1354" y="842.4" class="mt" textLength="71.5" lengthAdjust="spacingAndGlyphs">creating a</text>
<text x="1354" y="860" class="mt" textLength="101" lengthAdjust="spacingAndGlyphs">CDO-squared.</text>
</g>
</svg>
</body></html>
